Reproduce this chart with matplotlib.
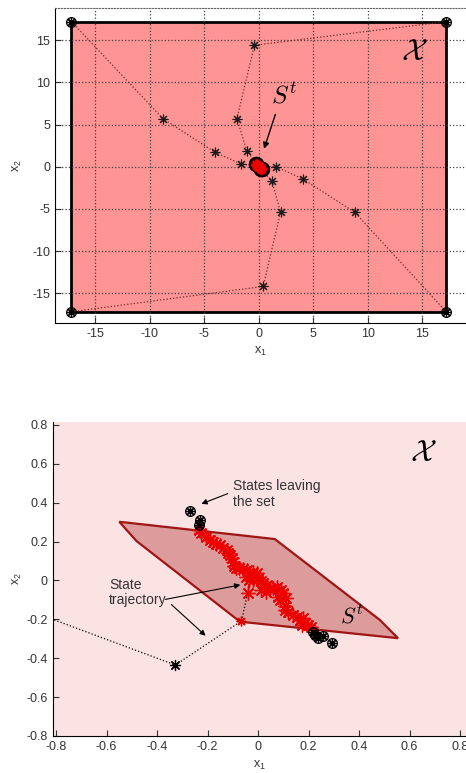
import matplotlib
matplotlib.use('Agg')
import matplotlib.pyplot as plt

plt.rcParams['font.family'] = ['Liberation Sans', 'DejaVu Sans']
plt.rcParams['mathtext.fontset'] = 'cm'
plt.rcParams['axes.unicode_minus'] = False

# ---- data: top panel (whole constraint set X) ----
box_x = [-17.2, 17.2, 17.2, -17.2]
box_y = [17.2, 17.2, -17.2, -17.2]

traj1_x = [-17.2, -8.8, -4.0, -1.6, 0.0]
traj1_y = [17.2, 5.7, 1.7, 0.3, 0.0]
traj2_x = [17.2, 8.8, 4.1, 1.6, 0.0]
traj2_y = [-17.2, -5.4, -1.5, 0.0, 0.0]
traj3_x = [17.2, -0.4, -2.0, -1.1, 0.0]
traj3_y = [17.2, 14.4, 5.7, 1.9, 0.0]
traj4_x = [-17.2, 0.4, 2.0, 1.2, 0.0]
traj4_y = [-17.2, -14.2, -5.4, -1.7, 0.0]

top_ticks = [-15, -10, -5, 0, 5, 10, 15]
top_ticklabels = ['-15', '-10', '-5', '0', '5', '10', '15']

# ---- data: bottom panel (zoom on S^t) ----
set_x = [-0.55, 0.066, 0.482, 0.554, -0.072, -0.482]
set_y = [0.302, 0.213, -0.203, -0.297, -0.212, 0.203]

cloud_x = [-0.236, -0.225, -0.205, -0.19, -0.18, -0.165, -0.15, -0.14, -0.125, -0.118,
           -0.112, -0.105, -0.1, -0.095, -0.088, -0.075, -0.06, -0.046, -0.035, -0.02,
           -0.006, -0.05, -0.035, -0.02, 0.0, 0.01, 0.02, 0.035, 0.045, 0.06,
           0.075, 0.09, 0.1, 0.03, -0.04, 0.01, 0.08, 0.086, 0.11, 0.105,
           0.106, 0.12, 0.139, 0.155, 0.165, 0.178, 0.185, 0.198, 0.21, 0.175]
cloud_y = [0.262, 0.245, 0.222, 0.208, 0.2, 0.19, 0.18, 0.165, 0.157, 0.14,
           0.131, 0.118, 0.095, 0.075, 0.063, 0.065, 0.058, 0.054, 0.04, 0.045,
           0.037, 0.02, 0.005, 0.003, 0.01, -0.005, -0.014, -0.025, -0.04, -0.04,
           -0.035, -0.05, -0.065, -0.06, -0.066, -0.05, -0.085, -0.1, -0.092, -0.13,
           -0.152, -0.16, -0.177, -0.19, -0.205, -0.194, -0.22, -0.229, -0.24, -0.23]

inner_x = [-0.234, -0.15, -0.03, 0.1, 0.18, 0.225]
inner_y = [0.285, 0.17, 0.02, -0.1, -0.2, -0.28]

outer_x = [-0.82, -0.328, -0.066, -0.03]
outer_y = [-0.197, -0.435, -0.208, 0.0]

leave_x = [-0.27, -0.231, -0.234, 0.218, 0.225, 0.238, 0.257, 0.291]
leave_y = [0.359, 0.311, 0.285, -0.266, -0.28, -0.294, -0.285, -0.323]

bot_ticks = [-0.8, -0.6, -0.4, -0.2, 0, 0.2, 0.4, 0.6, 0.8]
bot_ticklabels = ['-0.8', '-0.6', '-0.4', '-0.2', '0', '0.2', '0.4', '0.6', '0.8']

txt = '#333333'
dot_col = '#6a2a2a'
star = (8, 2, 0)   # MATLAB-like asterisk

fig = plt.figure(figsize=(4.66, 7.73), dpi=100)

# ---------------- top panel ----------------
ax1 = fig.add_axes([0.118, 0.5825, 0.884, 0.407])
ax1.fill(box_x, box_y, facecolor='#ff9494', edgecolor='black', linewidth=2, zorder=1)
for tx, ty in [(traj1_x, traj1_y), (traj2_x, traj2_y), (traj3_x, traj3_y), (traj4_x, traj4_y)]:
    ax1.plot(tx, ty, ':', color=dot_col, linewidth=0.9, zorder=2)
    ax1.plot(tx[1:-1], ty[1:-1], marker=star, ls='none', mec='#1a1a1a', markersize=7, mew=0.8, zorder=3)
ax1.plot(box_x, box_y, 'o', mfc='none', mec='black', markersize=7, mew=0.9, zorder=4)
ax1.plot(box_x, box_y, marker=star, ls='none', mec='black', markersize=7, mew=0.9, zorder=4)
# S^t seen from far away: black outline of boundary states, red cloud inside
ax1.plot(leave_x, leave_y, 'o', mfc='#400000', mec='black', markersize=10, mew=1.0, zorder=4)
ax1.fill(set_x, set_y, facecolor='#d00000', edgecolor='#600000', zorder=5)
ax1.plot(cloud_x, cloud_y, marker=star, ls='none', mec='#ee0000', markersize=7, mew=1.2, zorder=6)

ax1.set_xlim(-18.7, 19.1)
ax1.set_ylim(-18.5, 18.8)
ax1.set_xticks(top_ticks)
ax1.set_xticklabels(top_ticklabels)
ax1.set_yticks(top_ticks)
ax1.set_yticklabels(top_ticklabels)
ax1.grid(True, linestyle=':', color='#404040', linewidth=0.9)
ax1.set_facecolor('white')
ax1.spines['right'].set_visible(False)
ax1.spines['top'].set_linestyle(':')
ax1.spines['top'].set_color('#606060')
ax1.tick_params(direction='in', length=4, labelsize=9, labelcolor=txt, color='#333333')
ax1.set_xlabel(r'x$_\mathregular{1}$', fontsize=9, color=txt, labelpad=4)
ax1.set_ylabel(r'x$_\mathregular{2}$', fontsize=9, color=txt, labelpad=6)

ax1.text(14.3, 13.6, r'$\mathcal{X}$', fontsize=22, ha='center', va='center')
ax1.text(2.3, 8.4, r'$S^t$', fontsize=18, ha='center', va='center')
ax1.annotate('', xy=(0.4, 1.8), xytext=(1.6, 6.5),
             arrowprops=dict(arrowstyle='-|>', color='black', lw=1.0, mutation_scale=9))

# ---------------- bottom panel ----------------
ax2 = fig.add_axes([0.113, 0.0479, 0.889, 0.4066])
ax2.set_facecolor('#fbe3e3')
ax2.fill(set_x, set_y, facecolor='#dc9c9c', edgecolor='#a01515', linewidth=1.6, zorder=1)
ax2.plot(outer_x, outer_y, ':', color='black', linewidth=0.9, zorder=2)
ax2.plot(outer_x[1], outer_y[1], marker=star, mec='black', markersize=8, mew=0.9, zorder=3)
ax2.plot(outer_x[2], outer_y[2], marker=star, mec='#e00000', markersize=7, mew=1.0, zorder=3)
ax2.plot(inner_x, inner_y, ':', color='black', linewidth=0.9, zorder=2)
ax2.plot(cloud_x, cloud_y, marker=star, ls='none', mec='#ee0000', markersize=10, mew=1.0, zorder=3)
ax2.plot(leave_x, leave_y, 'o', mfc='none', mec='black', markersize=7, mew=0.9, zorder=4)
ax2.plot(leave_x, leave_y, marker=star, ls='none', mec='black', markersize=7, mew=0.9, zorder=4)

ax2.set_xlim(-0.814, 0.827)
ax2.set_ylim(-0.8, 0.817)
ax2.set_xticks(bot_ticks)
ax2.set_xticklabels(bot_ticklabels)
ax2.set_yticks(bot_ticks)
ax2.set_yticklabels(bot_ticklabels)
ax2.spines['right'].set_visible(False)
ax2.spines['top'].set_visible(False)
ax2.tick_params(direction='in', length=4, labelsize=9, labelcolor=txt, color='#333333')
ax2.set_xlabel(r'x$_\mathregular{1}$', fontsize=9, color=txt, labelpad=4)
ax2.set_ylabel(r'x$_\mathregular{2}$', fontsize=9, color=txt, labelpad=2)

ax2.text(0.654, 0.654, r'$\mathcal{X}$', fontsize=22, ha='center', va='center')
ax2.text(0.37, -0.19, r'$S^t$', fontsize=16, ha='center', va='center')

ax2.text(-0.10, 0.445, 'States leaving\nthe set', fontsize=10, color=txt,
         ha='left', va='center', linespacing=1.15)
ax2.annotate('', xy=(-0.235, 0.389), xytext=(-0.11, 0.452),
             arrowprops=dict(arrowstyle='-|>', color='black', lw=0.8, mutation_scale=8))
ax2.text(-0.59, -0.062, 'State\ntrajectory', fontsize=10, color=txt,
         ha='left', va='center', linespacing=1.15)
ax2.annotate('', xy=(-0.06, -0.02), xytext=(-0.378, -0.1),
             arrowprops=dict(arrowstyle='-|>', color='black', lw=0.8, mutation_scale=8))
ax2.annotate('', xy=(-0.2, -0.294), xytext=(-0.352, -0.114),
             arrowprops=dict(arrowstyle='-|>', color='black', lw=0.8, mutation_scale=8))

fig.savefig('out.png', dpi=100)
